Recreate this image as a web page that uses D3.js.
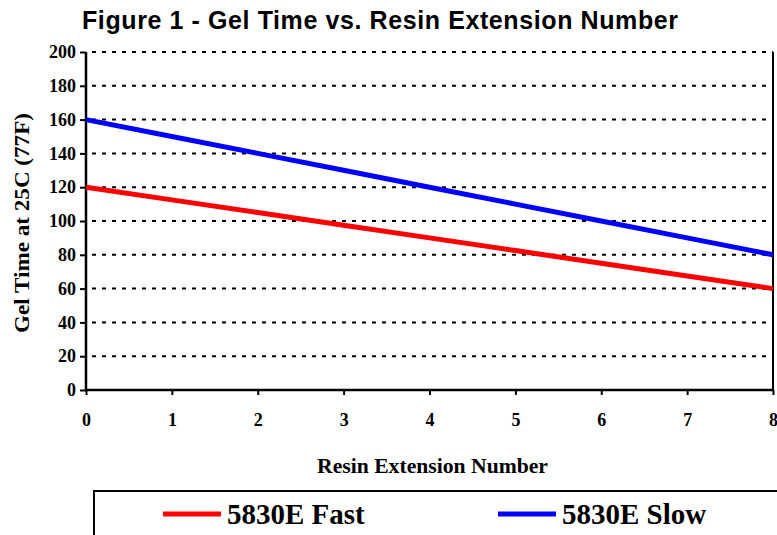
<!DOCTYPE html>
<html>
<head>
<meta charset="utf-8">
<script src="https://cdn.jsdelivr.net/npm/d3@7"></script>
<style>
  body { margin: 0; background: #fff; }
  svg { display: block; }
</style>
</head>
<body>
<div id="graph"></div>
<script>
// data
var ext_numbers = [0, 1, 2, 3, 4, 5, 6, 7, 8];
var fast_values = [120, 112.5, 105, 97.5, 90, 82.5, 75, 67.5, 60];
var slow_values = [160, 150, 140, 130, 120, 110, 100, 90, 80];
var series_names = ["5830E Fast", "5830E Slow"];
var series_colors = ["#ff0000", "#0000ff"];
var y_ticks = [0, 20, 40, 60, 80, 100, 120, 140, 160, 180, 200];

function draw_function() {
    var svg = d3.select("#graph")
        .append("svg")
        .attr("width", 777).attr("height", 535);

    // plot area
    var left = 86, right = 773, top = 52, bottom = 390;

    var x = d3.scaleLinear().domain([0, 8]).range([left, right]);
    var y = d3.scaleLinear().domain([0, 200]).range([bottom, top]);

    // title
    svg.append("text")
        .attr("x", 82).attr("y", 29)
        .attr("textLength", 596)
        .attr("lengthAdjust", "spacing")
        .style("font-family", "'Liberation Sans', Arial, sans-serif")
        .style("font-weight", "bold")
        .style("font-size", "25px")
        .text("Figure 1 -  Gel Time vs. Resin Extension Number");

    // dotted grid lines
    svg.selectAll("line.grid")
        .data(y_ticks.filter(function(d) { return d > 0; }))
        .enter()
        .append("line")
        .attr("class", "grid")
        .attr("x1", left).attr("x2", right)
        .attr("y1", function(d) { return y(d); })
        .attr("y2", function(d) { return y(d); })
        .attr("stroke", "#000")
        .attr("stroke-width", 2)
        .attr("stroke-dasharray", "4,6")
        .attr("stroke-dashoffset", -6);

    // right border
    svg.append("line")
        .attr("x1", right).attr("x2", right)
        .attr("y1", top).attr("y2", bottom)
        .attr("stroke", "#000").attr("stroke-width", 2);

    var font = "'Liberation Serif', 'Times New Roman', serif";

    // y axis
    var yAxis = svg.append("g")
        .attr("transform", "translate(" + left + ",0)")
        .call(d3.axisLeft(y).tickValues(y_ticks).tickSize(6).tickPadding(4));
    // x axis
    var xAxis = svg.append("g")
        .attr("transform", "translate(0," + bottom + ")")
        .call(d3.axisBottom(x).tickValues(ext_numbers).tickSize(5).tickPadding(18));

    [yAxis, xAxis].forEach(function(ax) {
        ax.select(".domain").attr("stroke-width", 2.5);
        ax.selectAll(".tick line").attr("stroke-width", 2);
        ax.selectAll(".tick text")
            .style("font-family", font)
            .style("font-weight", "bold")
            .style("font-size", "18px")
            .attr("fill", "#000");
    });
    xAxis.select(".domain").attr("d", "M" + left + ",0H" + right);
    yAxis.select(".domain").attr("d", "M0," + bottom + "V" + top);

    // lines
    var line = d3.line()
        .x(function(d, i) { return x(ext_numbers[i]); })
        .y(function(d) { return y(d); });

    [fast_values, slow_values].forEach(function(vals, k) {
        svg.append("path")
            .datum(vals)
            .attr("d", line)
            .attr("fill", "none")
            .attr("stroke", series_colors[k])
            .attr("stroke-width", 5);
    });

    // axis titles
    svg.append("text")
        .attr("x", 317).attr("y", 473)
        .attr("textLength", 231)
        .attr("lengthAdjust", "spacingAndGlyphs")
        .style("font-family", font)
        .style("font-weight", "bold")
        .style("font-size", "21px")
        .text("Resin Extension Number");

    svg.append("text")
        .attr("transform", "translate(29,333) rotate(-90)")
        .attr("textLength", 220)
        .attr("lengthAdjust", "spacingAndGlyphs")
        .style("font-family", font)
        .style("font-weight", "bold")
        .style("font-size", "21px")
        .text("Gel Time at 25C (77F)");

    // legend
    svg.append("rect")
        .attr("x", 94).attr("y", 491)
        .attr("width", 700).attr("height", 60)
        .attr("fill", "none")
        .attr("stroke", "#000")
        .attr("stroke-width", 2);

    var legend_x = [163, 498];
    series_names.forEach(function(name, k) {
        svg.append("line")
            .attr("x1", legend_x[k]).attr("x2", legend_x[k] + 58)
            .attr("y1", 514).attr("y2", 514)
            .attr("stroke", series_colors[k])
            .attr("stroke-width", 5);
        svg.append("text")
            .attr("x", legend_x[k] + 64).attr("y", 524)
            .style("font-family", font)
            .style("font-weight", "bold")
            .style("font-size", "29px")
            .text(name);
    });
}

window.onload = draw_function;
</script>
</body>
</html>
